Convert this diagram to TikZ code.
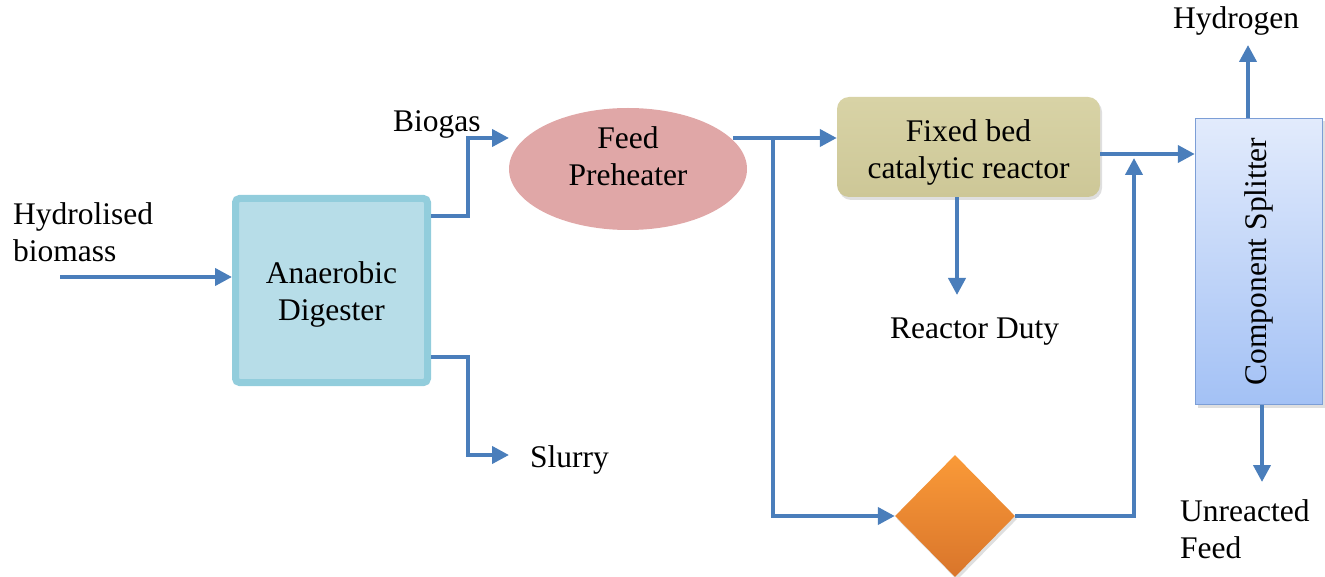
\documentclass[tikz,border=0pt]{standalone}
\usepackage{fontspec}
\setmainfont{Liberation Serif}
\usetikzlibrary{arrows.meta,shapes.geometric,shadows}
\definecolor{flowc}{HTML}{4A7EBB}
\definecolor{digb}{HTML}{92CDDC}
\definecolor{digf}{HTML}{B7DDE8}
\definecolor{prec}{HTML}{E0A7A7}
\definecolor{reactt}{HTML}{D8D3A6}
\definecolor{reactb}{HTML}{CDC797}
\definecolor{diat}{HTML}{FA9A38}
\definecolor{diab}{HTML}{D9752B}
\definecolor{splt}{HTML}{E2EBFC}
\definecolor{splbot}{HTML}{A3C1F5}
\definecolor{splb}{HTML}{7C9ED6}
\begin{document}
\begin{tikzpicture}[x=1pt,y=-1pt,
  font=\fontsize{31.5}{37}\selectfont,
  flow/.style={draw=flowc,line width=4pt,-{Triangle[length=17pt,width=17pt]}},
  softshadow/.style={drop shadow={opacity=0.25,shadow xshift=2pt,shadow yshift=-3pt}},
  digester/.style={draw=digb,line width=7pt,fill=digf,minimum width=192pt,minimum height=184pt,rounded corners=4pt,inner sep=0pt,softshadow},
  heater/.style={ellipse,fill=prec,minimum width=238pt,minimum height=122pt,inner sep=0pt},
  reactorbox/.style={rounded corners=12pt,top color=reactt,bottom color=reactb,minimum width=263pt,minimum height=100pt,inner sep=0pt,softshadow},
  valve/.style={diamond,top color=diat,bottom color=diab,minimum width=120pt,minimum height=122pt,inner sep=0pt,softshadow},
  splitbox/.style={draw=splb,line width=1.5pt,top color=splt,bottom color=splbot,minimum width=127pt,minimum height=286pt,inner sep=0pt,softshadow},
  inner/.style={align=center,inner sep=0pt},
  lbl/.style={anchor=base west,align=left,inner sep=0pt}
]
\useasboundingbox (0,0) rectangle (1325,577);

% main units
\node[digester] (dig) at (331.5,290.5) {};
\node[inner] (digtxt) at ([yshift=-4pt]dig.center) {Anaerobic\\Digester};
\node[heater] (pre) at (628,169) {};
\node[inner] (pretxt) at ([yshift=13pt]pre.center) {Feed\\Preheater};
\node[reactorbox] (reac) at (968.5,147) {};
\node[inner] (reactxt) at ([yshift=-5pt]reac.center) {Fixed bed\\catalytic reactor};
\node[valve] (dia) at (955,516) {};
\node[splitbox] (spl) at (1259,261.5) {\rotatebox{90}{Component Splitter}};

% labels
\node[lbl] (hb) at (13,262) {Hydrolised\\biomass};
\node[lbl] (bg) at (393,132) {Biogas};
\node[lbl] (sl) at (530,467) {Slurry};
\node[lbl] (rd) at (890,338) {Reactor Duty};
\node[lbl] (h2) at (1173,29) {Hydrogen};
\node[lbl] (uf) at (1180,558) {Unreacted\\Feed};

% helper coordinates
\coordinate (hbstart) at (60,277);
\coordinate (bgbend1) at (468,216);
\coordinate (bgbend2) at (468,138);
\coordinate (bgtip) at (509,138);
\coordinate (slbend1) at (468,357);
\coordinate (slbend2) at (468,455);
\coordinate (sltip) at (509,455);
\coordinate (phout) at (733,138);
\coordinate (branch) at (773,138);
\coordinate (rdtip) at (957,295);
\coordinate (jtip) at (1134,158);
\coordinate (h2tip) at (1248,45);
\coordinate (uftip) at (1262,482);

% connectors
\draw[flow] (hbstart) -- (dig.west |- hbstart);
\draw[flow] (dig.east |- bgbend1) -- (bgbend1) -- (bgbend2) -- (bgtip);
\draw[flow] (dig.east |- slbend1) -- (slbend1) -- (slbend2) -- (sltip);
\draw[flow] (phout) -- (reac.west |- phout);
\draw[flow] (branch) |- (dia.west);
\draw[flow] (reac.south -| rdtip) -- (rdtip);
\draw[flow] (reac.east |- 0,154) -- (spl.west |- 0,154);
\draw[flow] (dia.east) -| (jtip);
\draw[flow] (spl.north -| h2tip) -- (h2tip);
\draw[flow] (spl.south -| uftip) -- (uftip);
\end{tikzpicture}
\end{document}
